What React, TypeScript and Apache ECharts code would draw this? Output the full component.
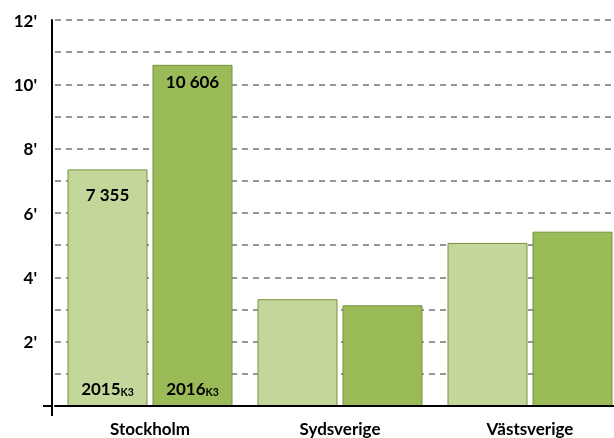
import React, { useEffect, useRef } from "react";
import * as echarts from "echarts";

const categories = ["Stockholm", "Sydsverige", "Västsverige"];
const values2015 = [7355, 3320, 5070];
const values2016 = [10606, 3130, 5420];
const yearLabels = ["2015", "2016"];
const quarterLabel = "K3";

const FONT = "Lato";

function fmt(v: number): string {
  return String(v).replace(/\B(?=(\d{3})+(?!\d))/g, " ");
}

export default function App() {
  const ref = useRef<HTMLDivElement>(null);
  useEffect(() => {
    if (!ref.current) return;
    const chart = echarts.init(ref.current, undefined, { renderer: "svg" });
    const border = "#76923C";
    const colors = ["#C4D79B", "#9BBB59"];
    const valueDist = [17, 8];
    const mainSeries = [values2015, values2016].map((vals, si) => ({
      type: "bar",
      xAxisIndex: 0,
      barWidth: 80,
      barGap: "6.25%",
      itemStyle: { color: colors[si], borderColor: border, borderWidth: 1 },
      data: vals.map((v, i) => ({
        value: v,
        label:
          i === 0
            ? {
                show: true,
                position: "insideTop",
                distance: valueDist[si],
                formatter: (p: any) => fmt(p.value),
                fontFamily: FONT,
                fontWeight: "bold",
                fontSize: 17,
                color: "#000",
              }
            : { show: false },
      })),
    }));
    const labelSeries = [values2015, values2016].map((vals, si) => ({
      type: "bar",
      xAxisIndex: 1,
      barWidth: 80,
      barGap: "6.25%",
      silent: true,
      itemStyle: { color: "rgba(0,0,0,0)" },
      data: vals.map((v, i) => ({
        value: v,
        label:
          i === 0
            ? {
                show: true,
                position: "insideBottom",
                distance: 9,
                formatter: "{a|" + yearLabels[si] + "}{b|" + quarterLabel + "}",
                rich: {
                  a: {
                    fontFamily: FONT,
                    fontWeight: "bold",
                    fontSize: 17,
                    color: "#000",
                    lineHeight: 20,
                    verticalAlign: "bottom",
                  },
                  b: {
                    fontFamily: FONT,
                    fontWeight: "bold",
                    fontSize: 10.5,
                    color: "#000",
                    lineHeight: 20,
                    verticalAlign: "bottom",
                  },
                },
              }
            : { show: false },
      })),
    }));
    chart.setOption({
      animation: false,
      grid: { left: 55, top: 20, bottom: 32, right: 0 },
      xAxis: [
        {
          type: "category",
          data: categories,
          axisLine: { show: true, lineStyle: { color: "#000", width: 2 } },
          axisTick: { show: false },
          axisLabel: {
            fontFamily: FONT,
            fontWeight: "bold",
            fontSize: 17,
            lineHeight: 18,
            color: "#000",
            margin: 13,
          },
          z: 5,
        },
        {
          type: "category",
          data: categories,
          show: false,
        },
      ],
      yAxis: {
        type: "value",
        min: 0,
        max: 12000,
        interval: 1000,
        offset: 3,
        axisLine: { show: true, lineStyle: { color: "#000", width: 2 } },
        axisTick: { show: false },
        axisLabel: {
          fontFamily: FONT,
          fontWeight: "bold",
          fontSize: 17,
          color: "#000",
          margin: 15,
          formatter: (v: number) =>
            v > 0 && v % 2000 === 0 ? v / 1000 + "'" : "",
        },
        splitLine: {
          show: true,
          lineStyle: { color: "#969696", width: 2, type: [6, 5] },
        },
      },
      graphic: [
        {
          type: "line",
          shape: { x1: 52, y1: 406, x2: 52, y2: 416 },
          style: { stroke: "#000", lineWidth: 2 },
          z: 10,
        },
        {
          type: "line",
          shape: { x1: 43, y1: 406, x2: 52, y2: 406 },
          style: { stroke: "#000", lineWidth: 2 },
          z: 10,
        },
      ],
      series: [...mainSeries, ...labelSeries],
    });
    return () => chart.dispose();
  }, []);
  return (
    <div
      style={{
        position: "fixed",
        left: 0,
        top: 0,
        width: 614,
        height: 438,
        overflow: "hidden",
      }}
    >
      <div ref={ref} style={{ width: 625, height: 438 }} />
    </div>
  );
}
